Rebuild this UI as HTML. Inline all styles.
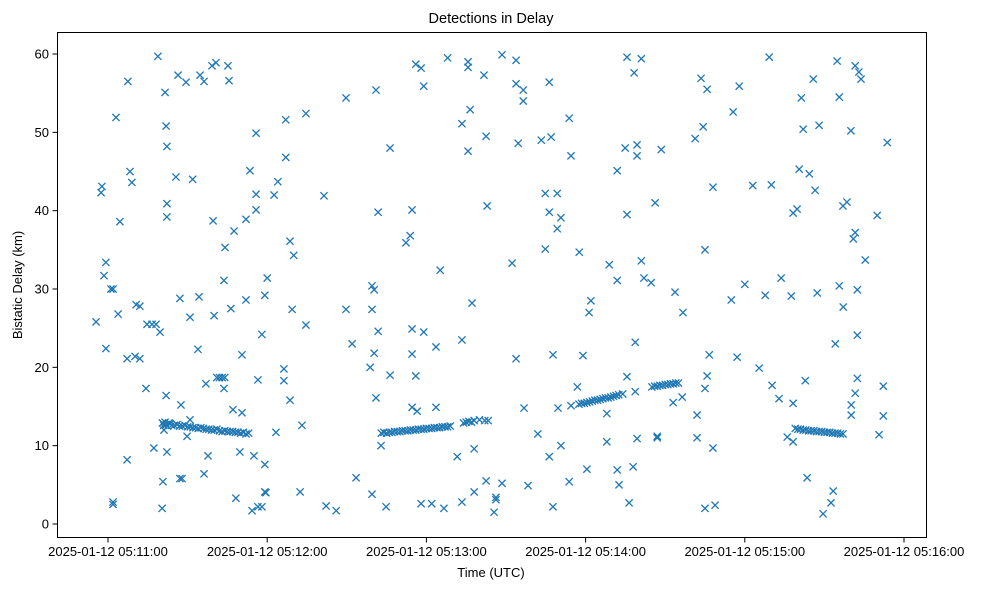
<!DOCTYPE html>
<html><head><meta charset="utf-8"><style>
html,body{margin:0;padding:0;background:#fff}
svg{display:block;font-family:"Liberation Sans",sans-serif}
</style></head><body>
<svg id="chart" width="987" height="590">
<text x="491" y="23" text-anchor="middle" font-size="14.5">Detections in Delay</text>
<g id="marks"></g>
<rect x="57.5" y="32.5" width="869" height="505" fill="none" stroke="#000" stroke-width="1"/>
<g id="xticks"></g>
<g id="yticks"></g>
<text x="491" y="577" text-anchor="middle" font-size="13">Time (UTC)</text>
<text transform="translate(22,285) rotate(-90)" text-anchor="middle" font-size="13">Bistatic Delay (km)</text>
</svg>
<script>
// seconds after 2025-01-12 05:11:00 UTC
const scatterTimes = [-4.5,-2.6,-2.3,-1.5,-0.8,-0.8,1.1,1.9,1.9,1.9,3,3.8,4.5,7.2,7.5,7.2,8.3,9,10.2,10.6,12,12,14.3,14.7,16.6,18.1,17.3,19.6,18.8,20.4,20.7,21.5,21.9,22.2,22.2,22.2,22.2,21.9,21.1,25.6,26.4,27.1,27.5,27.1,27.9,29.4,30.9,29.8,30.9,31.9,33.9,34.3,34.7,36.2,36.2,36.9,37.7,39.2,39.6,40,40.7,41,42,43,44,43.7,44.1,43.7,45.2,45.6,46.3,47.5,47.1,48.2,49.7,50.5,50.5,52,52,53.5,55.8,55.8,55.8,55,54.3,56.5,56.5,58,59.1,59.1,59.1,60,
67,74.6,67,64,62.6,81.4,89.7,101,106.3,116,118,119,128,135.7,135.7,141.7,136.5,133.4,135.7,142.5,101.8,114.6,112.3,113.9,142.9,68.6,70,69.4,89.7,99.5,74.6,99.5,100.3,125.2,137.2,92,101.8,114.6,119,123.6,133.4,100.3,114.6,66.3,66.3,98.8,106.3,116,68.6,101,114.6,116.5,123.6,73.1,63.3,102.9,131.6,138,93.5,142.5,138,133.4,59.5,72.4,99.5,82.2,86,104.8,118,122,126.6,58,
148.5,153.8,153.8,156.5,156.5,166.3,173.8,195.6,201,198.3,223.5,225.8,224.3,221.3,154.6,163.3,167,174.5,194.9,199.4,199.4,208.5,191.9,164.8,169.3,166.3,170.7,169.3,195.6,206.2,228,164.8,177.6,152.3,188.9,201,191.9,202,204.7,213.7,216.7,225,182,181.3,198.7,153.8,167.7,179,226.6,195.6,176.9,198.7,225.8,225,216.4,213,156.8,169.6,174.5,188,143.3,222,162,188,199.4,207,207,222,228,170.7,166.3,180.5,191.9,197.9,173.8,192.6,148.5,158.3,146.2,146.2,145.5,167.7,196.4,225,
249.2,274.8,281.6,283,283.8,265.8,237.9,261.3,275.6,235.6,262,268,280,293.7,260.5,264.3,266.5,243,250,258.2,259.7,277,278.5,289.9,280.9,281.6,285.4,240,234.9,247.7,253.7,257.5,267.3,275.6,282.4,277.1,274.1,282.4,237.1,245.4,250.3,262.8,282.4,281.6,292.2,252.9,258.2,280.1,280.1,292.2,290.6,256,258.2,263.5,273.3,272.5,269.5,228.8];
const scatterDelays = [25.8,42.3,43.1,31.7,33.4,22.4,30.0,30.0,2.8,2.5,51.9,26.8,38.6,8.2,56.5,21.1,45.0,43.6,21.4,28,27.8,21.1,17.3,25.5,25.5,25.5,9.7,24.5,59.7,2.0,5.4,55.1,50.8,48.2,40.9,39.2,9.2,16.4,12,44.3,57.3,28.8,15.2,5.8,5.8,56.4,26.4,11.2,13.3,44.0,22.3,29.0,57.3,56.5,6.4,17.9,8.7,58.5,38.7,26.6,58.9,18.7,18.7,18.7,18.7,31.1,35.3,17.3,58.5,56.6,27.5,37.4,14.6,3.3,9.2,14.2,21.6,28.6,38.9,45.1,49.9,42.1,40.1,8.7,1.7,18.4,2.2,24.2,7.6,4.1,29.2,31.4,
51.6,52.4,46.8,43.7,42.0,41.9,54.4,55.4,48.0,58.7,58.2,55.9,59.5,59.0,58.3,57.3,52.9,51.1,47.6,49.5,39.8,40.1,35.9,36.8,40.6,36.1,34.3,27.4,27.4,27.4,25.4,30.4,29.9,32.4,28.2,23.0,24.6,24.9,24.5,22.6,23.5,21.8,21.7,19.8,18.3,20.0,19.0,18.9,15.8,16.1,14.9,14.4,14.9,12.6,11.7,10.0,8.6,9.6,5.9,5.5,4.1,2.8,4.0,4.1,3.8,2.3,1.7,2.2,2.6,2.6,2.0,2.2,
59.9,59.2,56.2,55.4,54.0,56.4,51.8,59.6,59.4,57.6,56.9,55.5,50.7,49.2,48.6,49.0,49.4,47.0,48.0,48.4,47.0,47.8,45.1,42.2,42.2,39.8,39.1,37.7,39.5,41.0,43.0,35.1,34.7,33.3,33.1,33.6,31.1,31.4,30.8,29.6,27.0,35.0,28.5,27.0,23.2,21.1,21.6,21.5,21.6,18.8,17.5,16.9,18.9,17.3,16.2,15.5,14.8,14.8,15.1,14.1,13.2,13.9,11.5,10.5,10.9,11.2,11.0,11.0,9.7,10.0,8.6,7.0,6.9,7.3,5.4,5.0,5.2,4.9,3.4,3.1,1.5,2.2,2.7,2.0,
59.6,59.1,58.5,57.7,56.8,56.8,55.9,54.4,54.5,52.6,50.4,50.9,50.2,48.7,45.3,44.7,42.6,43.2,43.3,39.7,40.2,40.6,41.1,39.4,36.4,37.2,33.7,30.6,28.6,29.2,31.4,29.1,29.5,30.4,29.9,27.7,23.0,24.1,21.3,19.9,17.7,18.3,18.6,16.7,17.6,16.0,15.4,15.2,13.9,13.8,11.4,11.1,10.5,5.9,4.2,2.7,1.3,2.4];
// dense track segments
const trackTimes = [20.5,21,21.5,22,22.5,23,23.5,24,25,26,27,28,29,30,31,32,33,34,35,36,37,38,39,40,41,42,43,44,45,46,47,48,49,50,51,52,53,
103,104,105,106,107,108,109,110,111,112,113,114,115,116,117,118,119,120,121,122,123,124,125,126,127,128,129,134,135,136,137,138,140,142,
177.5,178.5,179.5,180.5,181.5,182.5,183.5,184.5,185.5,186.5,187.5,188.5,189.5,190.5,191.5,192.5,194,205,206,207,208,209,210,211,212,213,214,215,
259,260,261,262,263,264,265,266,267,268,269,270,271,272,273,274,275,276,277];
const trackDelays = [12.9,12.6,13.0,12.7,12.5,12.9,12.8,12.6,12.6,12.7,12.5,12.5,12.6,12.4,12.4,12.3,12.3,12.2,12.3,12.2,12.1,12.1,12.0,12.0,12.1,11.9,11.8,11.9,11.8,11.8,11.8,11.7,11.7,11.6,11.7,11.5,11.6,
11.6,11.7,11.6,11.7,11.7,11.8,11.8,11.8,11.9,11.9,11.9,12.0,12.0,12.0,12.1,12.1,12.1,12.2,12.2,12.2,12.3,12.3,12.3,12.4,12.4,12.4,12.5,12.9,13.0,13.1,13.0,13.2,13.3,13.2,
15.3,15.4,15.4,15.5,15.6,15.7,15.8,15.8,15.9,16.0,16.1,16.1,16.2,16.3,16.4,16.5,16.6,17.5,17.6,17.6,17.7,17.7,17.8,17.8,17.9,17.9,18.0,18.0,
12.2,12.1,12.1,12.0,12.0,11.9,11.9,11.9,11.8,11.8,11.8,11.7,11.7,11.7,11.6,11.6,11.6,11.5,11.5];
const xTickSeconds = [0,60,120,180,240,300];
const xTickLabels = ["2025-01-12 05:11:00","2025-01-12 05:12:00","2025-01-12 05:13:00","2025-01-12 05:14:00","2025-01-12 05:15:00","2025-01-12 05:16:00"];
const yTickValues = [0,10,20,30,40,50,60];

const NS="http://www.w3.org/2000/svg";
function xScale(s){return 108+s*159.2/60;}
function yScale(v){return 524-v*7.833;}
const marks=document.getElementById('marks');
function drawX(s,v){
  const x=xScale(s),y=yScale(v),r=3.6;
  const p=document.createElementNS(NS,'path');
  p.setAttribute('d',`M${x-r},${y-r}L${x+r},${y+r}M${x-r},${y+r}L${x+r},${y-r}`);
  p.setAttribute('stroke','#1f77b4');p.setAttribute('stroke-width','1.3');p.setAttribute('fill','none');
  
  
  marks.appendChild(p);
}
scatterTimes.forEach((s,i)=>drawX(s,scatterDelays[i]));
trackTimes.forEach((s,i)=>drawX(s,trackDelays[i]));
const xg=document.getElementById('xticks');
xTickSeconds.forEach((s,i)=>{
  const x=xScale(s);
  const l=document.createElementNS(NS,'line');
  l.setAttribute('x1',x);l.setAttribute('x2',x);l.setAttribute('y1',537.5);l.setAttribute('y2',542.5);l.setAttribute('stroke','#000');
  
  
  xg.appendChild(l);
  const t=document.createElementNS(NS,'text');
  t.setAttribute('x',x);t.setAttribute('y',556);t.setAttribute('text-anchor','middle');t.setAttribute('font-size','13');
  t.textContent=xTickLabels[i];
  
  
  xg.appendChild(t);
});
const yg=document.getElementById('yticks');
yTickValues.forEach(v=>{
  const y=yScale(v);
  const l=document.createElementNS(NS,'line');
  l.setAttribute('x1',52.5);l.setAttribute('x2',57.5);l.setAttribute('y1',y);l.setAttribute('y2',y);l.setAttribute('stroke','#000');
  
  
  yg.appendChild(l);
  const t=document.createElementNS(NS,'text');
  t.setAttribute('x',49);t.setAttribute('y',y+4.5);t.setAttribute('text-anchor','end');t.setAttribute('font-size','13');
  t.textContent=String(v);
  
  
  yg.appendChild(t);
});
</script>
</body></html>
